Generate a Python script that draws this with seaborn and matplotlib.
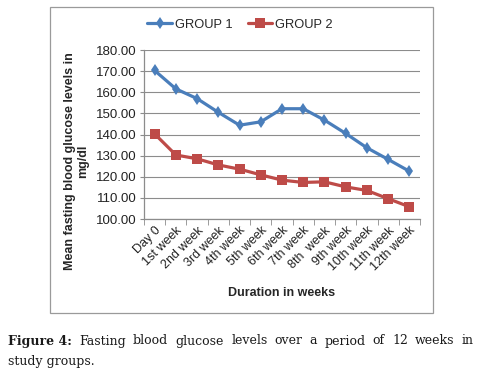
import matplotlib
matplotlib.use("Agg")
import matplotlib.pyplot as plt
import matplotlib.patches as patches
import seaborn as sns
import pandas as pd
import numpy as np

# chart data
weeks = ["Day 0", "1st week", "2nd week", "3rd week", "4th week", "5th week",
         "6th week", "7th week", "8th  week", "9th week", "10th week",
         "11th week", "12th week"]
group1 = [170.3, 161.6, 157.0, 150.5, 144.4, 146.0, 152.2, 152.2, 146.8,
          140.5, 133.7, 128.2, 122.6]
group2 = [140.3, 130.3, 128.5, 125.6, 123.6, 120.9, 118.4, 117.3, 117.6,
          115.2, 113.5, 109.6, 105.8]
groups = ["GROUP 1", "GROUP 2"]
y_ticks = [100, 110, 120, 130, 140, 150, 160, 170, 180]

df = pd.DataFrame({
    "week": weeks * 2,
    "value": group1 + group2,
    "group": [groups[0]] * len(weeks) + [groups[1]] * len(weeks),
})

sns.set_style("white")
plt.rcParams["font.family"] = ["Liberation Sans", "DejaVu Sans"]

fig = plt.figure(figsize=(4.91, 3.74), dpi=100)
ax = fig.add_axes([144 / 491, 1 - 219 / 374, 276 / 491, 169 / 374])

palette = {"GROUP 1": "#4A7EBB", "GROUP 2": "#BE4B48"}
markers = {"GROUP 1": "d", "GROUP 2": "s"}
sns.lineplot(data=df, x="week", y="value", hue="group", style="group",
             palette=palette, markers=markers, dashes=False, sort=False,
             linewidth=2.3, markersize=6.5, markeredgewidth=0, ax=ax)

ax.set_xlim(-0.5, len(weeks) - 0.5)
ax.set_ylim(100, 180)
ax.set_yticks(y_ticks)
ax.set_yticklabels([f"{v:.2f}" for v in y_ticks], fontsize=9.5, color="#222222")
ax.yaxis.grid(True, color="#8c8c8c", linewidth=0.8)
ax.set_axisbelow(True)

ax.set_xticks(range(len(weeks)))
ax.set_xticklabels(weeks, rotation=45, ha="right", rotation_mode="anchor",
                   fontsize=9, color="#222222")
ax.tick_params(axis="x", which="major", length=0, pad=4)
ax.set_xticks(np.arange(-0.5, len(weeks), 1), minor=True)
ax.tick_params(axis="x", which="minor", length=4, color="#8c8c8c", direction="out", bottom=True)
ax.tick_params(axis="y", length=3, color="#8c8c8c", direction="out", left=True, pad=2)

for side in ["top", "right"]:
    ax.spines[side].set_visible(False)
for side in ["left", "bottom"]:
    ax.spines[side].set_color("#8c8c8c")
    ax.spines[side].set_linewidth(0.9)

ax.set_xlabel("Duration in weeks", fontsize=9, fontweight="bold", labelpad=10)
ax.set_ylabel("Mean fasting blood glucose levels in\nmg/dl", fontsize=9,
              fontweight="bold", linespacing=1.1, va="center", ha="center")
ax.yaxis.set_label_coords(-0.245, 0.34)

handles, labels = ax.get_legend_handles_labels()
ax.legend(handles, labels, loc="center", bbox_to_anchor=(240 / 491, 1 - 25 / 374),
          bbox_transform=fig.transFigure, ncol=2, frameon=False, fontsize=9.3,
          handlelength=1.9, columnspacing=1.2, handletextpad=0.2)

# chart frame
fig.patches.append(patches.Rectangle((50 / 491, 1 - 313 / 374), 383 / 491, 306 / 374,
                                     transform=fig.transFigure, fill=False,
                                     edgecolor="#9a9a9a", linewidth=0.9))

# justified caption
cap_font = ["DejaVu Serif"]
line1 = ["Figure 4:", "Fasting", "blood", "glucose", "levels", "over", "a",
         "period", "of", "12", "weeks", "in"]
left_px, right_px = 8, 474
y1 = 1 - 341 / 374
fig.canvas.draw()
renderer = fig.canvas.get_renderer()
texts = []
for i, w in enumerate(line1):
    t = fig.text(0, y1, w, fontsize=9, family=cap_font, va="center",
                 fontweight="bold" if i == 0 else "normal", color="#1a1a1a")
    texts.append(t)
widths = [t.get_window_extent(renderer).width for t in texts]
gap = (right_px - left_px - sum(widths)) / (len(texts) - 1)
x = left_px
for t, wd in zip(texts, widths):
    t.set_x(x / 491)
    x += wd + gap
fig.text(left_px / 491, 1 - 361 / 374, "study groups.", fontsize=9,
         family=cap_font, va="center", color="#1a1a1a")

fig.savefig("out.png", dpi=100)
